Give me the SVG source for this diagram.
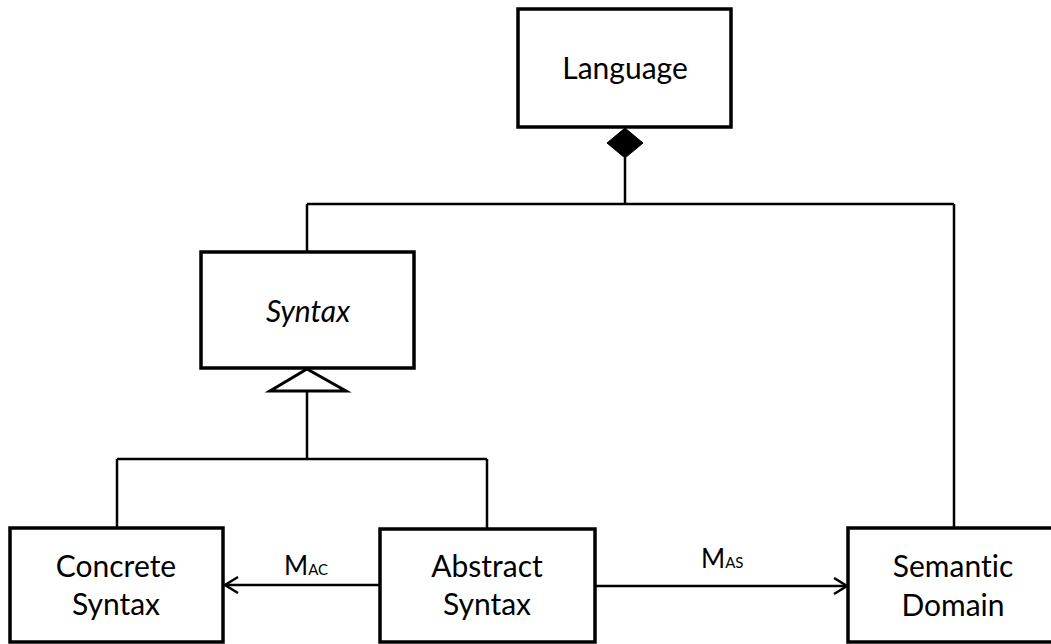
<svg xmlns="http://www.w3.org/2000/svg" width="1051" height="644" viewBox="0 0 1051 644">
<defs>
<style>
.box{fill:#fff;stroke:#000;stroke-width:3.5}
.ln{fill:none;stroke:#000;stroke-width:2.5}
.t{font-family:Lato,"Open Sans",sans-serif;font-size:30px;fill:#000;text-anchor:middle;font-variant-ligatures:none}
.m{font-family:Lato,"Open Sans",sans-serif;font-size:26px;fill:#000}
.s{font-size:15px}
</style>
<marker id="open" markerWidth="16" markerHeight="20" refX="14" refY="9" orient="auto" markerUnits="userSpaceOnUse">
<path d="M1,1 L14,9 L1,17" fill="none" stroke="#000" stroke-width="2.5"/>
</marker>
</defs>
<rect width="1051" height="644" fill="#fff"/>
<g id="connectors">
<path class="ln" d="M625,158 V204 M307,204 H954 M307,204 V252 M954,204 V528"/>
<path class="ln" d="M307,391 V459 M117,459 H487 M117,459 V528 M487,459 V529"/>
<path d="M625,128 L643,143 L625,158 L607,143 Z" fill="#000" stroke="#000" stroke-width="1"/>
<path d="M307,369 L346,391 L270,391 Z" fill="#fff" stroke="#000" stroke-width="3"/>
<line class="ln" x1="380" y1="585" x2="225" y2="585" marker-end="url(#open)"/>
<line class="ln" x1="595" y1="586" x2="847" y2="586" marker-end="url(#open)"/>
<text class="m" x="284" y="575">M<tspan class="s">AC</tspan></text>
<text class="m" x="701" y="568">M<tspan class="s">AS</tspan></text>
</g>
<g id="language">
<rect class="box" x="518" y="9" width="213" height="118"/>
<text class="t" x="625" y="79">Language</text>
</g>
<g id="syntax">
<rect class="box" x="201" y="252" width="213" height="116"/>
<text class="t" x="308" y="322" font-style="italic">Syntax</text>
</g>
<g id="concrete">
<rect class="box" x="10" y="528" width="213" height="114"/>
<text class="t" x="116" y="577">Concrete</text>
<text class="t" x="116" y="615">Syntax</text>
</g>
<g id="abstract">
<rect class="box" x="380" y="529" width="215" height="113"/>
<text class="t" x="487" y="577">Abstract</text>
<text class="t" x="487" y="615">Syntax</text>
</g>
<g id="semantic">
<rect class="box" x="848" y="528" width="220" height="114"/>
<text class="t" x="953" y="577">Semantic</text>
<text class="t" x="953" y="616">Domain</text>
</g>
</svg>
